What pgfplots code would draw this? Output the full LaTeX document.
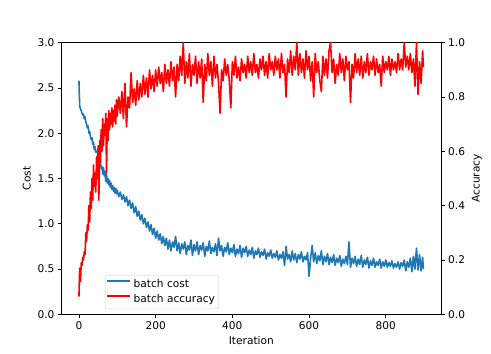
\documentclass[border=0pt]{standalone}
\usepackage{fontspec}
\setmainfont{DejaVu Sans}
\usepackage{pgfplots}
\pgfplotsset{compat=1.18}

\definecolor{mplblue}{HTML}{1F77B4}

\pgfplotsset{
  common/.style={
    at={(61.7pt,39.7pt)}, anchor=south west,
    scale only axis, width=379.3pt, height=271.6pt,
    xmin=-44.9, xmax=943.9,
    font=\fontsize{10.6}{12.7}\selectfont,
    /pgf/number format/assume math mode=true,
    tick align=outside, major tick length=3.7pt,
    tick style={black, line width=0.8pt},
    axis line style={line width=0.8pt},
    every axis plot/.append style={line width=1.6pt, line join=round},
  },
}

\begin{document}
\begin{tikzpicture}
\useasboundingbox (0,0) rectangle (491pt,354pt);

\begin{axis}[common,
    ymin=0, ymax=3,
    xtick={0,200,400,600,800},
    ytick={0,0.5,1,1.5,2,2.5,3},
    xtick pos=bottom, ytick pos=left,
    yticklabel style={/pgf/number format/.cd, fixed, fixed zerofill, precision=1},
    xlabel={Iteration}, ylabel={Cost},
]
\addplot[mplblue] coordinates {
(0,2.58)(2,2.30)(4,2.27)(6,2.25)(8,2.22)(10,2.20)(12,2.21)(14,2.16)(16,2.18)(18,2.12)
(20,2.10)(22,2.06)(24,2.08)(26,2.00)(28,2.02)(30,1.96)(32,1.93)(34,1.95)(36,1.88)(38,1.90)
(40,1.82)(42,1.85)(44,1.79)(46,1.80)(48,1.80)(50,1.77)(52,1.79)(54,1.66)(56,1.70)(58,1.61)
(60,1.63)(62,1.55)(64,1.62)(66,1.53)(68,1.58)(70,1.47)(72,1.55)(74,1.45)(76,1.50)(78,1.43)
(80,1.48)(82,1.40)(84,1.45)(86,1.38)(88,1.42)(90,1.36)(92,1.40)(94,1.34)(96,1.39)(98,1.33)
(100,1.37)(104,1.30)(108,1.35)(112,1.27)(116,1.32)(120,1.24)(124,1.30)(128,1.20)(132,1.26)(136,1.17)
(140,1.23)(144,1.12)(148,1.19)(152,1.08)(156,1.14)(160,1.04)(164,1.10)(168,1.00)(172,1.06)(176,0.96)
(180,1.02)(184,0.92)(188,0.99)(192,0.88)(196,0.95)(200,0.84)(204,0.92)(208,0.82)(212,0.89)(216,0.78)
(220,0.86)(224,0.76)(228,0.84)(232,0.72)(236,0.82)(240,0.70)(244,0.80)(248,0.74)(252,0.86)(256,0.70)
(260,0.79)(264,0.67)(268,0.78)(272,0.72)(276,0.80)(280,0.66)(284,0.76)(288,0.71)(292,0.82)(296,0.65)
(300,0.77)(304,0.70)(308,0.80)(312,0.66)(316,0.76)(320,0.71)(324,0.79)(328,0.64)(332,0.75)(336,0.70)
(340,0.81)(344,0.67)(348,0.74)(352,0.69)(356,0.78)(360,0.65)(364,0.84)(368,0.70)(372,0.76)(376,0.64)
(380,0.74)(384,0.69)(388,0.79)(392,0.66)(396,0.73)(400,0.68)(404,0.77)(408,0.64)(412,0.72)(416,0.67)
(420,0.76)(424,0.63)(428,0.73)(432,0.68)(436,0.75)(440,0.64)(444,0.71)(448,0.66)(452,0.74)(456,0.62)
(460,0.70)(464,0.66)(468,0.73)(472,0.63)(476,0.69)(480,0.65)(484,0.72)(488,0.61)(492,0.68)(496,0.64)
(500,0.71)(504,0.62)(508,0.67)(512,0.63)(516,0.70)(520,0.60)(524,0.66)(528,0.62)(532,0.69)(536,0.54)
(540,0.75)(544,0.61)(548,0.66)(552,0.58)(556,0.70)(560,0.60)(564,0.67)(568,0.57)(572,0.66)(576,0.61)
(580,0.69)(584,0.58)(588,0.64)(592,0.60)(596,0.68)(600,0.42)(604,0.62)(608,0.76)(612,0.58)(616,0.68)
(620,0.56)(624,0.65)(628,0.59)(632,0.70)(636,0.55)(640,0.64)(644,0.58)(648,0.67)(652,0.55)(656,0.63)
(660,0.57)(664,0.66)(668,0.54)(672,0.62)(676,0.57)(680,0.65)(684,0.53)(688,0.61)(692,0.56)(696,0.64)
(700,0.55)(704,0.80)(708,0.52)(712,0.62)(716,0.56)(720,0.64)(724,0.53)(728,0.61)(732,0.55)(736,0.65)
(740,0.52)(744,0.60)(748,0.55)(752,0.63)(756,0.51)(760,0.59)(764,0.54)(768,0.62)(772,0.52)(776,0.58)
(780,0.54)(784,0.61)(788,0.51)(792,0.58)(796,0.53)(800,0.60)(804,0.52)(808,0.57)(812,0.53)(816,0.59)
(820,0.51)(824,0.56)(828,0.52)(832,0.58)(836,0.50)(840,0.57)(844,0.53)(848,0.60)(852,0.48)(856,0.58)
(860,0.52)(864,0.62)(868,0.47)(872,0.64)(876,0.50)(880,0.73)(884,0.49)(888,0.66)(892,0.48)(896,0.63)
(898,0.50)
};
\end{axis}

\begin{axis}[common,
    ymin=0, ymax=1,
    axis x line=none, axis y line*=right,
    ytick={0,0.2,0.4,0.6,0.8,1},
    yticklabel style={/pgf/number format/.cd, fixed, fixed zerofill, precision=1},
    ylabel={Accuracy},
    legend style={at={(rel axis cs:0.114,0.0195)}, anchor=south west,
      draw=black!20, rounded corners=2pt, fill=white, fill opacity=0.8, text opacity=1,
      font=\fontsize{10.6}{12.7}\selectfont, inner sep=1.5pt,
      nodes={inner sep=2.5pt, text height=8pt, text depth=2.3pt}, row sep=0pt},
    legend cell align=left,
    legend image code/.code={\draw[#1] (0pt,3.5pt) -- (23pt,3.5pt);},
]
% legend stand-in for the cost series, which lies in the other axis
\addplot[mplblue] coordinates {(-200,-5)(-150,-5)};
\addlegendentry{batch cost}
\addplot[red] coordinates {
(0,0.065)(2,0.17)(4,0.12)(6,0.19)(8,0.18)(10,0.21)(12,0.20)(14,0.23)(16,0.22)(18,0.30)
(20,0.27)(22,0.33)(24,0.31)(26,0.40)(28,0.34)(30,0.45)(32,0.39)(34,0.50)(36,0.42)(38,0.55)
(40,0.47)(42,0.52)(44,0.45)(46,0.58)(48,0.50)(50,0.62)(52,0.42)(54,0.64)(56,0.56)(58,0.68)
(60,0.60)(62,0.72)(64,0.62)(66,0.70)(68,0.66)(70,0.74)(72,0.52)(74,0.72)(76,0.64)(78,0.75)
(80,0.68)(82,0.74)(84,0.70)(86,0.76)(88,0.69)(90,0.75)(92,0.71)(94,0.77)(96,0.70)(98,0.79)
(100,0.73)(104,0.80)(108,0.74)(112,0.82)(116,0.72)(120,0.85)(124,0.69)(128,0.80)(132,0.76)(136,0.89)
(140,0.78)(144,0.83)(148,0.77)(152,0.86)(156,0.79)(160,0.85)(164,0.80)(168,0.88)(172,0.81)(176,0.87)
(180,0.80)(184,0.90)(188,0.83)(192,0.88)(196,0.82)(200,0.90)(204,0.84)(208,0.91)(212,0.85)(216,0.89)
(220,0.82)(224,0.92)(228,0.85)(232,0.90)(236,0.84)(240,0.93)(244,0.86)(248,0.91)(252,0.80)(256,0.92)
(260,0.86)(264,0.95)(268,0.88)(272,1.00)(276,0.85)(280,0.93)(284,0.87)(288,0.96)(292,0.84)(296,0.92)
(300,0.88)(304,0.95)(308,0.85)(312,0.93)(316,0.87)(320,0.94)(324,0.78)(328,0.92)(332,0.86)(336,0.96)
(340,0.88)(344,0.93)(348,0.84)(352,0.95)(356,0.87)(360,0.92)(364,0.85)(368,0.74)(372,0.90)(376,0.86)
(380,0.94)(384,0.88)(388,0.92)(392,0.86)(396,0.76)(400,0.93)(404,0.88)(408,0.95)(412,0.87)(416,0.91)
(420,0.86)(424,0.94)(428,0.89)(432,0.92)(436,0.87)(440,0.95)(444,0.89)(448,0.93)(452,0.88)(456,0.96)
(460,0.89)(464,0.92)(468,0.87)(472,0.94)(476,0.90)(480,0.95)(484,0.88)(488,0.93)(492,0.87)(496,0.96)
(500,0.90)(504,0.93)(508,0.88)(512,0.95)(516,0.90)(520,0.94)(524,0.87)(528,0.96)(532,0.89)(536,0.92)
(540,0.80)(544,0.94)(548,0.89)(552,0.97)(556,0.88)(560,0.95)(564,0.90)(568,1.00)(572,0.88)(576,0.96)
(580,0.89)(584,0.94)(588,0.87)(592,0.97)(596,0.90)(600,0.95)(604,0.86)(608,0.93)(612,0.80)(616,0.96)
(620,0.89)(624,0.93)(628,0.86)(632,0.82)(636,0.95)(640,0.88)(644,0.94)(648,0.87)(652,0.97)(656,1.00)
(660,0.89)(664,0.94)(668,0.85)(672,0.92)(676,0.88)(680,0.96)(684,0.89)(688,0.94)(692,0.86)(696,0.95)
(700,0.90)(704,0.93)(708,0.78)(712,0.92)(716,0.87)(720,0.96)(724,0.89)(728,0.94)(732,0.88)(736,0.95)
(740,0.87)(744,0.93)(748,0.89)(752,0.96)(756,0.88)(760,0.93)(764,0.90)(768,0.95)(772,0.88)(776,0.94)
(780,0.89)(784,0.92)(788,0.84)(792,0.95)(796,0.89)(800,0.93)(804,0.90)(808,0.95)(812,0.88)(816,0.94)
(820,0.90)(824,0.93)(828,0.89)(832,0.96)(836,0.90)(840,0.94)(844,0.90)(848,1.00)(852,0.91)(856,0.95)
(860,0.90)(864,0.96)(868,0.89)(872,0.94)(876,0.84)(880,1.00)(884,0.81)(888,0.93)(892,0.85)(896,0.97)
(898,0.91)
};
\addlegendentry{batch accuracy}
\end{axis}
\end{tikzpicture}
\end{document}
